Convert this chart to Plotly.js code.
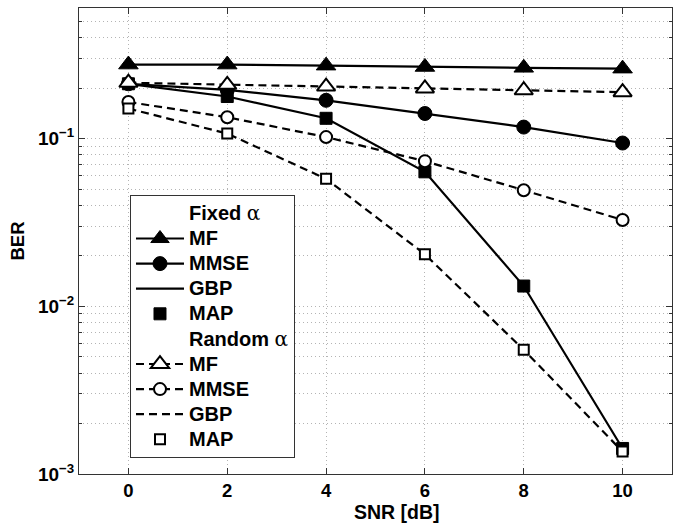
<!DOCTYPE html>
<html>
<head>
<meta charset="utf-8">
<script src="https://cdn.plot.ly/plotly-3.0.1.min.js"></script>
<style>html,body{margin:0;padding:0;background:#fff;}#chart{width:679px;height:524px;}</style>
</head>
<body>
<div id="chart"></div>
<script>
// ---- data ----
const snr = [0, 2, 4, 6, 8, 10];
const fixedMF   = [0.276, 0.276, 0.272, 0.267, 0.264, 0.261];
const fixedMMSE = [0.212, 0.195, 0.169, 0.141, 0.117, 0.094];
const fixedGBP  = [0.212, 0.178, 0.132, 0.0633, 0.0132, 0.00142];
const fixedMAP  = [0.212, 0.178, 0.132, 0.0633, 0.0132, 0.00142];
const randMF    = [0.215, 0.209, 0.204, 0.199, 0.194, 0.189];
const randMMSE  = [0.165, 0.134, 0.102, 0.0733, 0.0492, 0.0327];
const randGBP   = [0.151, 0.107, 0.0575, 0.0204, 0.0055, 0.00136];
const randMAP   = [0.151, 0.107, 0.0575, 0.0204, 0.0055, 0.00136];

const xTicks = [0, 2, 4, 6, 8, 10];
const yDecades = [0.001, 0.01, 0.1];
const yDecadeLabels = ['10<sup>−3</sup>', '10<sup>−2</sup>', '10<sup>−1</sup>'];
const yMinorMult = [2, 3, 4, 5, 6, 7, 8, 9];
const xTitle = 'SNR [dB]';
const yTitle = 'BER';

// ---- styling ----
const FONT = 'Liberation Sans, Arial, Helvetica, sans-serif';
const LW = 2.2;
const DASH = '8px,5px';
const big = s => '<span style="font-size:20px">' + s + '</span>';
const alpha = '<span style="font-family:\'DejaVu Serif\';font-weight:normal">α</span>';

const minorVals = [];
yDecades.forEach(d => yMinorMult.forEach(m => { if (d * m <= 0.6) minorVals.push(d * m); }));

// legend-only header entries (an invisible marker on an existing data point)
const header = (name, xs, ys) => ({
  x: xs.slice(0, 1), y: ys.slice(0, 1), mode: 'markers', name: big(name),
  marker: {color: 'rgba(0,0,0,0)', size: 1, line: {width: 0}},
  hoverinfo: 'skip'
});

const traces = [
  header('Fixed ' + alpha, snr, fixedMF),
  {x: snr, y: fixedMF, name: big('MF'), mode: 'lines+markers',
   line: {color: '#000', width: LW},
   marker: {symbol: 'triangle-up', size: 17, color: '#000', line: {color: '#000', width: 1}}},
  {x: snr, y: fixedMMSE, name: big('MMSE'), mode: 'lines+markers',
   line: {color: '#000', width: LW},
   marker: {symbol: 'circle', size: 14, color: '#000', line: {color: '#000', width: 1}}},
  {x: snr, y: fixedGBP, name: big('GBP'), mode: 'lines',
   line: {color: '#000', width: LW}},
  {x: snr, y: fixedMAP, name: big('MAP'), mode: 'markers',
   marker: {symbol: 'square', size: 12, color: '#000', line: {color: '#000', width: 1}}},
  header('Random ' + alpha, snr, randMF),
  {x: snr, y: randMF, name: big('MF'), mode: 'lines+markers',
   line: {color: '#000', width: LW, dash: DASH},
   marker: {symbol: 'triangle-up', size: 16, color: '#fff', line: {color: '#000', width: 2}}},
  {x: snr, y: randMMSE, name: big('MMSE'), mode: 'lines+markers',
   line: {color: '#000', width: LW, dash: DASH},
   marker: {symbol: 'circle', size: 12, color: '#fff', line: {color: '#000', width: 2}}},
  {x: snr, y: randGBP, name: big('GBP'), mode: 'lines',
   line: {color: '#000', width: LW, dash: DASH}},
  {x: snr, y: randMAP, name: big('MAP'), mode: 'markers',
   marker: {symbol: 'square', size: 10, color: '#fff', line: {color: '#000', width: 2}}}
].map(t => Object.assign({type: 'scatter', cliponaxis: false}, t));

const GRID = '#b4b4b4';
const layout = {
  width: 679, height: 524,
  margin: {l: 79, r: 7, t: 8, b: 50},
  paper_bgcolor: '#fff', plot_bgcolor: '#fff',
  font: {family: FONT, size: 18, color: '#000', weight: 'bold'},
  showlegend: true,
  xaxis: {
    range: [-1, 11],
    tickmode: 'array', tickvals: xTicks, ticktext: xTicks.map(String),
    ticks: 'inside', ticklen: 6, tickcolor: '#333', tickwidth: 1,
    showline: true, linecolor: '#333', linewidth: 1, mirror: 'allticks',
    showgrid: true, gridcolor: GRID, gridwidth: 1, griddash: '1px,3px',
    zeroline: false,
    tickfont: {family: FONT, size: 18.5, weight: 'bold'}
  },
  yaxis: {
    type: 'log',
    range: [-3, Math.log10(0.6)],
    tickmode: 'array', tickvals: yDecades, ticktext: yDecadeLabels,
    ticks: 'inside', ticklen: 6, tickcolor: '#333', tickwidth: 1,
    showline: true, linecolor: '#333', linewidth: 1, mirror: 'allticks',
    showgrid: true, gridcolor: GRID, gridwidth: 1, griddash: '1px,3px',
    zeroline: false,
    minor: {tickmode: 'array', tickvals: minorVals, ticks: 'inside', ticklen: 3,
            tickcolor: '#333', showgrid: true, gridcolor: GRID, gridwidth: 1, griddash: '1px,3px'},
    tickfont: {family: FONT, size: 19, weight: 'bold'},
    title: {text: yTitle, font: {family: FONT, size: 18.5, weight: 'bold'}, standoff: 8}
  },
  annotations: [{
    text: xTitle, xref: 'paper', yref: 'paper', x: 0.536, y: 0,
    xanchor: 'center', yanchor: 'middle', yshift: -38, showarrow: false,
    font: {family: FONT, size: 19.5, weight: 'bold', color: '#000'}
  }],
  legend: {
    x: 0.086, y: 0.599, xanchor: 'left', yanchor: 'top',
    bgcolor: '#fff', bordercolor: '#333', borderwidth: 1,
    font: {family: FONT, size: 17, color: '#000', weight: 'bold'},
    traceorder: 'normal', itemwidth: 48, tracegroupgap: 0
  }
};

Plotly.newPlot('chart', traces, layout, {displayModeBar: false, staticPlot: true});
</script>
</body>
</html>
